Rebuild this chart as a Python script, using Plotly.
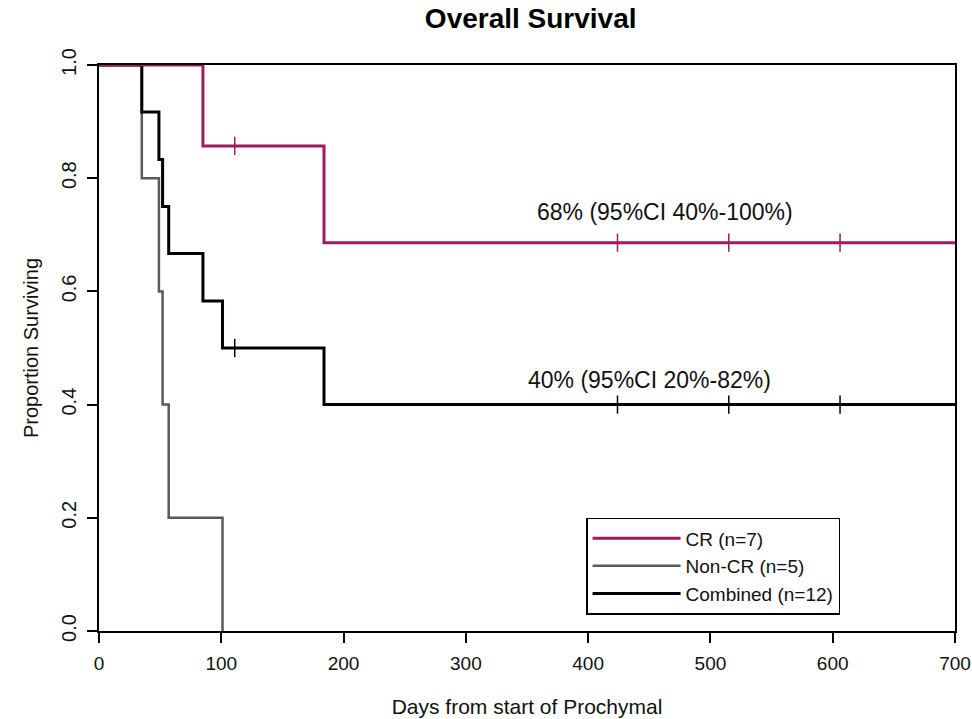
import plotly.graph_objects as go

# Kaplan-Meier step points (days, proportion surviving)
cr_step_days = [0, 85, 184, 720]
cr_step_surv = [1.0, 0.857, 0.686, 0.686]
cr_censor_days = [111, 424, 515, 606]
cr_censor_surv = [0.857, 0.686, 0.686, 0.686]

noncr_step_days = [0, 35, 49, 52, 57, 101]
noncr_step_surv = [1.0, 0.8, 0.6, 0.4, 0.2, 0.0]

comb_step_days = [0, 35, 49, 52, 57, 85, 101, 184, 720]
comb_step_surv = [1.0, 0.917, 0.833, 0.75, 0.667, 0.583, 0.5, 0.4, 0.4]
comb_censor_days = [111, 424, 515, 606]
comb_censor_surv = [0.5, 0.4, 0.4, 0.4]

group_names = ["CR (n=7)", "Non-CR (n=5)", "Combined (n=12)"]
group_colors = ["#A3195B", "#5A5A5A", "#000000"]

x_ticks = [0, 100, 200, 300, 400, 500, 600, 700]
y_ticks = [0.0, 0.2, 0.4, 0.6, 0.8, 1.0]

estimate_labels = ["68% (95%CI 40%-100%)", "40% (95%CI 20%-82%)"]
estimate_days = [463, 450]
estimate_surv = [0.740, 0.443]

FONT = "Arial, Liberation Sans, sans-serif"

fig = go.Figure()

# Non-CR curve (drawn first, underneath)
fig.add_trace(go.Scatter(
    x=noncr_step_days, y=noncr_step_surv, mode="lines", line_shape="hv",
    line=dict(color=group_colors[1], width=2.5), name=group_names[1],
    legendrank=2,
))

# Combined curve and its censoring ticks
fig.add_trace(go.Scatter(
    x=comb_step_days, y=comb_step_surv, mode="lines", line_shape="hv",
    line=dict(color=group_colors[2], width=3), name=group_names[2],
    legendrank=3,
))
fig.add_trace(go.Scatter(
    x=comb_censor_days, y=comb_censor_surv, mode="markers",
    marker=dict(symbol="line-ns", size=13, line=dict(color=group_colors[2], width=1.5)),
    showlegend=False, hoverinfo="skip",
))

# CR curve and its censoring ticks
fig.add_trace(go.Scatter(
    x=cr_step_days, y=cr_step_surv, mode="lines", line_shape="hv",
    line=dict(color=group_colors[0], width=3), name=group_names[0],
    legendrank=1,
))
fig.add_trace(go.Scatter(
    x=cr_censor_days, y=cr_censor_surv, mode="markers",
    marker=dict(symbol="line-ns", size=13, line=dict(color=group_colors[0], width=1.5)),
    showlegend=False, hoverinfo="skip",
))

for label, xd, ys in zip(estimate_labels, estimate_days, estimate_surv):
    fig.add_annotation(x=xd, y=ys, text=label, showarrow=False,
                       font=dict(family=FONT, size=23, color="#111111"),
                       xanchor="center", yanchor="middle")

fig.update_layout(
    width=972, height=719,
    margin=dict(l=99, r=17, t=65, b=88, autoexpand=False),
    paper_bgcolor="white", plot_bgcolor="white",
    font=dict(family=FONT, color="#111111"),
    title=dict(text="<b>Overall Survival</b>", x=0.546, xanchor="center",
               y=0.961, yref="container", yanchor="bottom",
               font=dict(family=FONT, size=28, color="#000000")),
    showlegend=True,
    legend=dict(x=0.569, y=0.2, xanchor="left", yanchor="top",
                bordercolor="#000000", borderwidth=1.5, bgcolor="white",
                font=dict(family=FONT, size=19, color="#111111"),
                itemwidth=88, tracegroupgap=0),
)

fig.update_xaxes(
    range=[0, 700], tickvals=x_ticks, ticks="outside", ticklen=10,
    tickwidth=1.5, tickcolor="#000000", showline=True, linecolor="#000000",
    linewidth=2, mirror=True, showgrid=False, zeroline=False, automargin=False,
    layer="below traces", ticklabelstandoff=4, ticklabeloverflow="allow",
    tickfont=dict(family=FONT, size=19, color="#111111"),
    title=dict(text="Days from start of Prochymal", standoff=27,
               font=dict(family=FONT, size=21, color="#111111")),
)
fig.update_yaxes(
    range=[0, 1], tickvals=y_ticks, tickformat=".1f", tickangle=-90,
    ticks="outside", ticklen=10, tickwidth=1.5, tickcolor="#000000",
    showline=True, linecolor="#000000", linewidth=2, mirror=True,
    showgrid=False, zeroline=False, layer="below traces", automargin=False,
    ticklabelstandoff=3,
    tickfont=dict(family=FONT, size=20, color="#111111"),
    title=dict(text="Proportion Surviving", standoff=14,
               font=dict(family=FONT, size=20, color="#111111")),
)

fig.write_html("out.html")
